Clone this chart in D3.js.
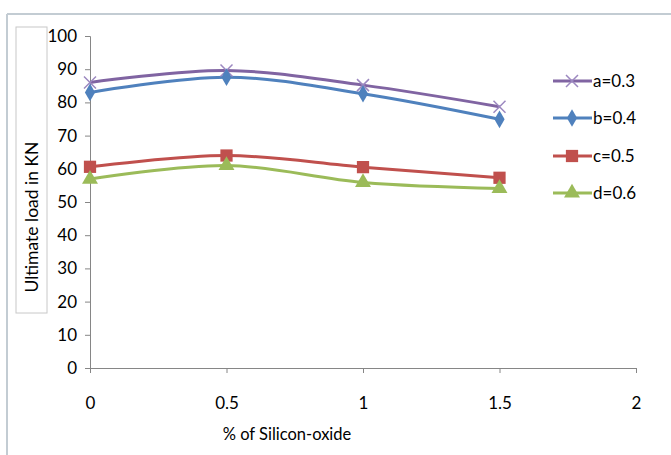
<!DOCTYPE html>
<html><head><meta charset="utf-8">
<script src="https://cdn.jsdelivr.net/npm/d3@7"></script>
<style>body{margin:0;background:#fff}svg{display:block}</style>
</head><body><svg id="c" width="671" height="455"></svg>
<script>
const xValues = [0, 0.5, 1, 1.5];
const seriesNames = ["a=0.3", "b=0.4", "c=0.5", "d=0.6"];
const seriesA = [86.0, 89.6, 85.2, 78.7];
const seriesB = [83.0, 87.6, 82.6, 74.9];
const seriesC = [60.6, 64.0, 60.5, 57.3];
const seriesD = [56.9, 61.0, 55.9, 54.1];
const yTicks = [0,10,20,30,40,50,60,70,80,90,100];
const xTicks = [0,0.5,1,1.5,2];
const colors = ["#8064A2","#4F81BD","#C0504D","#9BBB59"];
const markers = ["x","diamond","square","triangle"];

const svg = d3.select("#c");
const font = "Lato, 'Open Sans', sans-serif";
// frame lines
svg.append("line").attr("x1",7).attr("x2",671).attr("y1",14).attr("y2",14).attr("stroke","#c3ccd3").attr("stroke-width",2);
svg.append("line").attr("x1",7).attr("x2",7).attr("y1",14).attr("y2",455).attr("stroke","#c3ccd3").attr("stroke-width",2);

const x = d3.scaleLinear().domain([0,2]).range([90,636]);
const y = d3.scaleLinear().domain([0,100]).range([368,36]);

const yAxis = svg.append("g").attr("transform","translate(90,0)")
  .call(d3.axisLeft(y).tickValues(yTicks).tickSize(5).tickPadding(8).tickFormat(d3.format("d")));
const xAxis = svg.append("g").attr("transform","translate(0,368)")
  .call(d3.axisBottom(x).tickValues(xTicks).tickSize(5).tickPadding(24).tickFormat(d=>String(d)));
[yAxis,xAxis].forEach(g=>{
  g.select(".domain").attr("stroke","#868686");
  g.selectAll(".tick line").attr("stroke","#868686");
  g.selectAll("text").attr("font-family",font).attr("font-size",17).attr("fill","#000");
});

// y title box
svg.append("rect").attr("x",16).attr("y",27).attr("width",31).attr("height",286).attr("fill","#fff").attr("stroke","#c8c8c8");
svg.append("text").attr("transform","translate(38,217) rotate(-90)").attr("text-anchor","middle")
  .attr("font-family",font).attr("font-size",17.5).text("Ultimate load in KN");
svg.append("text").attr("x",287).attr("y",440).attr("text-anchor","middle")
  .attr("font-family",font).attr("font-size",16.5).text("% of Silicon-oxide");

const all = [seriesA, seriesB, seriesC, seriesD];
const line = d3.line().x((d,i)=>x(xValues[i])).y(d=>y(d)).curve(d3.curveCatmullRom.alpha(0.5));

function marker(g, type, cx, cy, color){
  if(type==="x"){
    const s=6;
    g.append("path").attr("d",`M${cx-s},${cy-s}L${cx+s},${cy+s}M${cx-s},${cy+s}L${cx+s},${cy-s}`)
      .attr("stroke","#9c88c0").attr("stroke-width",1.5).attr("fill","none");
  } else {
    const sym = type==="diamond"?d3.symbolDiamond:type==="square"?d3.symbolSquare:d3.symbolTriangle;
    const size = type==="diamond"?90:type==="square"?150:110;
    g.append("path").attr("d",d3.symbol().type(sym).size(size)()).attr("transform",`translate(${cx},${cy})`).attr("fill",color);
  }
}

all.forEach((s,k)=>{
  svg.append("path").datum(s).attr("d",line).attr("fill","none").attr("stroke",colors[k]).attr("stroke-width",3);
});
all.forEach((s,k)=>{
  s.forEach((v,i)=>marker(svg, markers[k], x(xValues[i]), y(v), colors[k]));
});

// legend
const legY = [81,118,156,193];
seriesNames.forEach((n,k)=>{
  svg.append("line").attr("x1",553).attr("x2",592).attr("y1",legY[k]).attr("y2",legY[k]).attr("stroke",colors[k]).attr("stroke-width",3);
  marker(svg, markers[k], 572, legY[k], colors[k]);
  svg.append("text").attr("x",593).attr("y",legY[k]+6).attr("font-family",font).attr("font-size",17).text(n);
});
</script></body></html>
